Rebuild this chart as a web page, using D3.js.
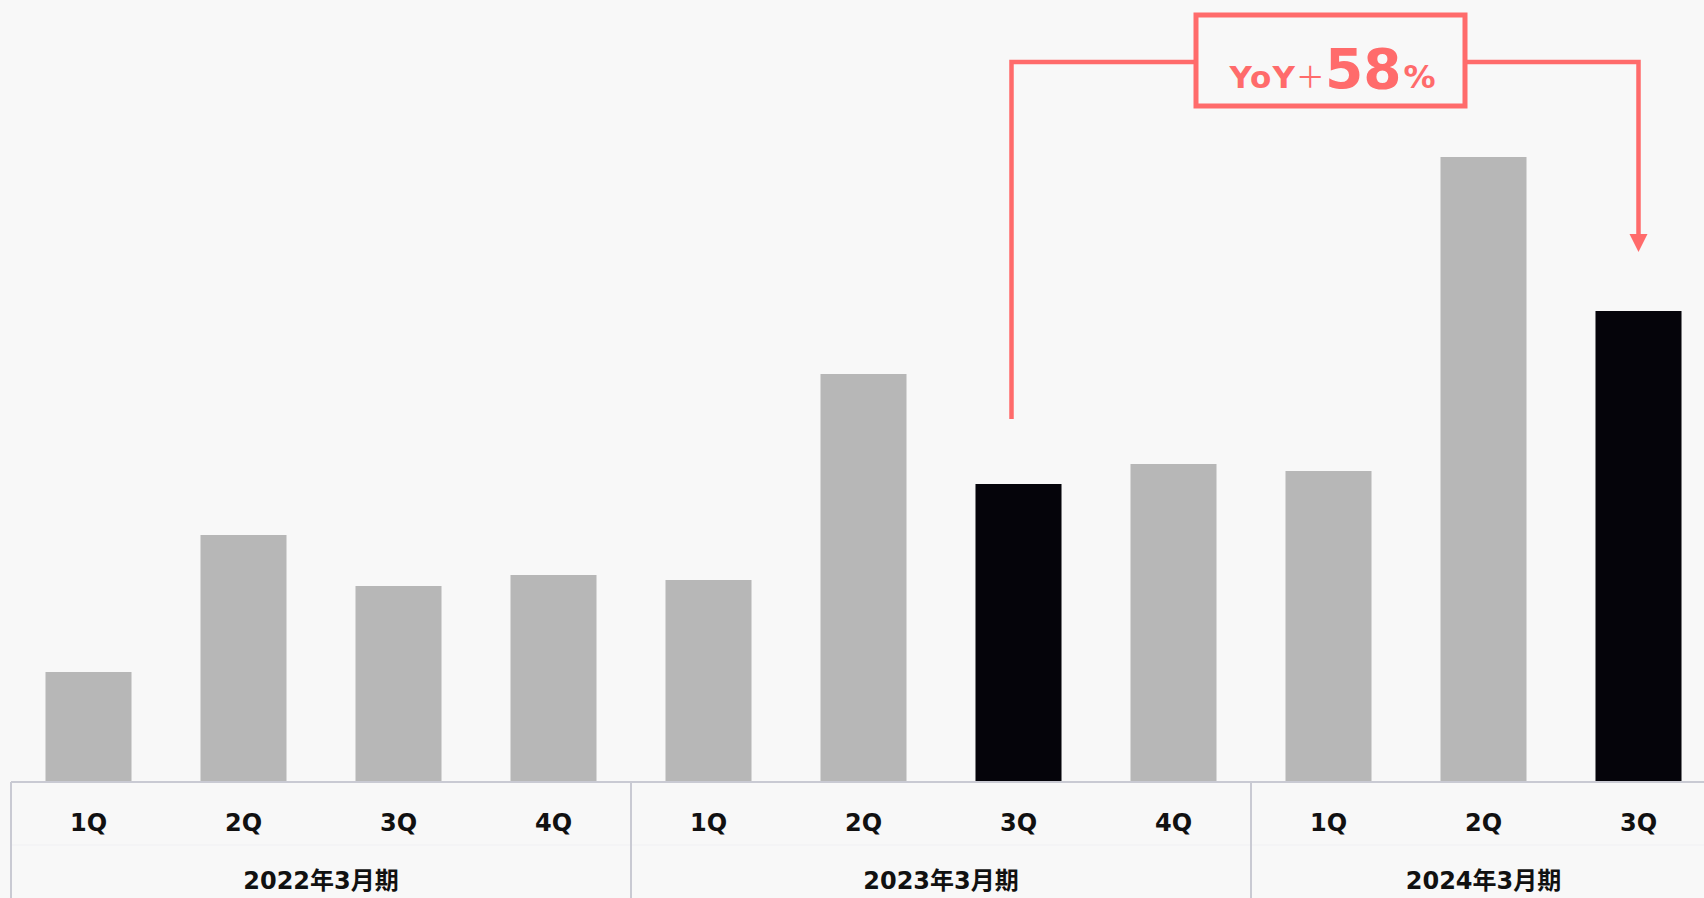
<!DOCTYPE html>
<html>
<head>
<meta charset="utf-8">
<script src="https://d3js.org/d3.v7.min.js"></script>
<style>
  body { margin: 0; background: #f8f8f8; }
  text { font-family: "DejaVu Sans", "Noto Sans CJK JP", sans-serif; }
</style>
</head>
<body>
<script>
    var width = 1704, height = 898;

    // data (relative units)
    var quarters = ["1Q", "2Q", "3Q", "4Q", "1Q", "2Q", "3Q", "4Q", "1Q", "2Q", "3Q"];
    var years = ["2022年3月期", "2023年3月期", "2024年3月期"];
    var yearOf = [0, 0, 0, 0, 1, 1, 1, 1, 2, 2, 2];
    var values = [110, 247, 196, 207, 202, 408, 298, 318, 311, 625, 471];
    var highlight = [false, false, false, false, false, false, true, false, false, false, true];
    var yoyLabel = ["YoY", "＋", "58", "%"];

    var svg = d3.select("body").append("svg")
        .attr("width", width)
        .attr("height", height)
        .style("display", "block")
        .style("background", "#f8f8f8");

    var x0 = 11, slot = 155, baseY = 782;

    var x = d3.scaleBand()
        .domain(d3.range(values.length))
        .range([x0, x0 + slot * values.length])
        .paddingInner(0.445)
        .paddingOuter(0.2225);

    var y = d3.scaleLinear()
        .domain([0, 700])
        .range([baseY, baseY - 700]);

    function slotStart(i) { return x(i) - x.step() * x.paddingOuter(); }

    // bars
    svg.selectAll("rect.bar")
        .data(values)
        .enter().append("rect")
        .attr("class", "bar")
        .attr("x", function(d, i) { return x(i); })
        .attr("y", function(d) { return y(d); })
        .attr("width", x.bandwidth())
        .attr("height", function(d) { return y(0) - y(d); })
        .attr("fill", function(d, i) { return highlight[i] ? "#05040a" : "#b7b7b7"; });

    // axis + table lines
    var lineColor = "#c9cad3";
    svg.append("line")
        .attr("x1", x0).attr("x2", width)
        .attr("y1", baseY).attr("y2", baseY)
        .attr("stroke", lineColor).attr("stroke-width", 2);

    svg.append("line")
        .attr("x1", x0).attr("x2", width)
        .attr("y1", 845).attr("y2", 845)
        .attr("stroke", "#f0f0f3").attr("stroke-width", 1);

    var groupStarts = [0, 4, 8];
    svg.selectAll("line.sep")
        .data(groupStarts)
        .enter().append("line")
        .attr("class", "sep")
        .attr("x1", function(d) { return slotStart(d); })
        .attr("x2", function(d) { return slotStart(d); })
        .attr("y1", baseY).attr("y2", height)
        .attr("stroke", lineColor).attr("stroke-width", 2);

    // quarter labels
    svg.selectAll("text.q")
        .data(quarters)
        .enter().append("text")
        .attr("class", "q")
        .attr("x", function(d, i) { return x(i) + x.bandwidth() / 2; })
        .attr("y", 831)
        .attr("text-anchor", "middle")
        .attr("font-size", "24px")
        .attr("font-weight", "bold")
        .attr("fill", "#111")
        .text(function(d) { return d; });

    // year labels, centred under their own quarters
    svg.selectAll("text.yr")
        .data(years)
        .enter().append("text")
        .attr("class", "yr")
        .attr("x", function(d, gi) {
            var idx = d3.range(values.length).filter(function(i) { return yearOf[i] === gi; });
            var a = slotStart(idx[0]);
            var b = slotStart(idx[idx.length - 1]) + x.step();
            return (a + b) / 2;
        })
        .attr("y", 889)
        .attr("text-anchor", "middle")
        .attr("font-size", "24px")
        .attr("font-weight", "bold")
        .attr("fill", "#111")
        .text(function(d) { return d; });

    // YoY annotation
    var red = "#ff6b6b";
    var fromI = 6, toI = 10;
    var lx = x(fromI) + x.bandwidth() / 2 - 7;
    var rx = x(toI) + x.bandwidth() / 2;
    var topY = 62;

    svg.append("path")
        .attr("d", "M" + lx + "," + (y(values[fromI]) - 65) + "V" + topY + "H" + rx + "V" + (y(values[toI]) - 75))
        .attr("fill", "none")
        .attr("stroke", red)
        .attr("stroke-width", 4.5);

    svg.append("path")
        .attr("d", "M" + (rx - 9) + "," + (y(values[toI]) - 77) + "L" + (rx + 9) + "," + (y(values[toI]) - 77) + "L" + rx + "," + (y(values[toI]) - 59) + "Z")
        .attr("fill", red);

    var boxX = 1196, boxW = 269;
    svg.append("rect")
        .attr("x", boxX).attr("y", 15)
        .attr("width", boxW).attr("height", 91)
        .attr("fill", "#f8f8f8")
        .attr("stroke", red)
        .attr("stroke-width", 5);

    var t = svg.append("text")
        .attr("x", boxX + boxW / 2 + 2)
        .attr("y", 88)
        .attr("text-anchor", "middle")
        .attr("fill", red)
        .attr("font-weight", "bold");
    t.append("tspan").attr("font-size", "31px").attr("letter-spacing", "1px").text(yoyLabel[0]);
    t.append("tspan").attr("font-size", "29px").attr("font-weight", "normal")
        .style("font-family", "'Noto Sans CJK JP'").text(yoyLabel[1]);
    t.append("tspan").attr("font-size", "55px").attr("dx", "0").text(yoyLabel[2]);
    t.append("tspan").attr("font-size", "32px").attr("dx", "2").text(yoyLabel[3]);
</script>
</body>
</html>
